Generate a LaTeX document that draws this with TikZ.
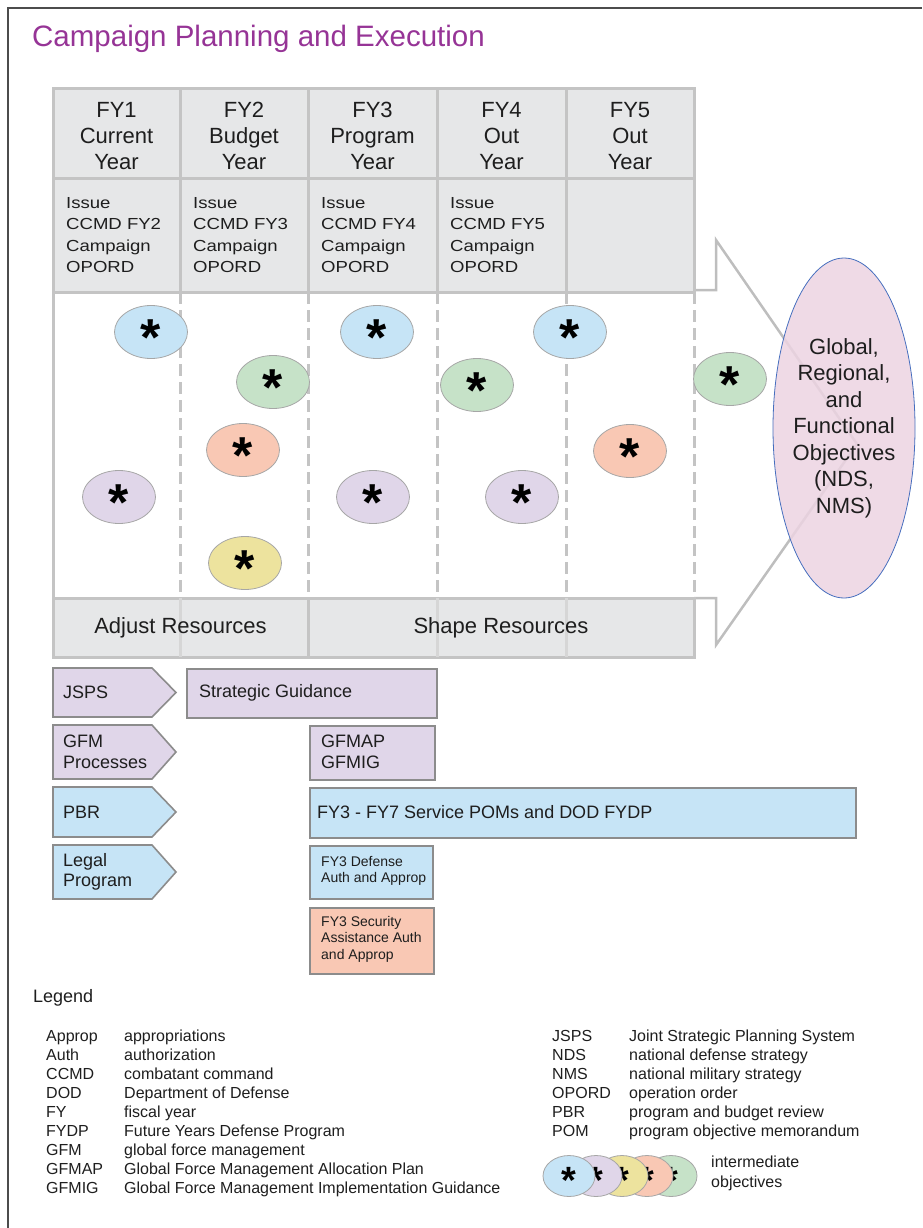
\documentclass[tikz,border=0pt]{standalone}
\usepackage{fontspec}
\setmainfont{Liberation Sans}
\newfontfamily\widefont[FakeStretch=1.16]{Liberation Sans}
\usetikzlibrary{shapes.geometric}

\definecolor{titlepurple}{RGB}{150,52,150}
\definecolor{cellgray}{RGB}{230,231,232}
\definecolor{gridgray}{RGB}{196,196,196}
\definecolor{arrowgray}{RGB}{190,190,190}
\definecolor{lilac}{RGB}{224,214,233}
\definecolor{sky}{RGB}{198,228,246}
\definecolor{mint}{RGB}{198,226,200}
\definecolor{salmon}{RGB}{249,200,180}
\definecolor{butter}{RGB}{237,227,158}
\definecolor{rose}{RGB}{236,212,226}
\definecolor{ovalblue}{RGB}{70,110,190}
\definecolor{ink}{RGB}{30,30,30}
\definecolor{boxline}{RGB}{140,140,140}

\newcommand{\objstar}{\smash{\raisebox{-0.45em}{\bfseries *}}}

\begin{document}
\begin{tikzpicture}[x=1pt,y=-1pt,
    cell/.style={fill=cellgray,draw=gridgray,line width=3pt},
    split/.style={draw=gridgray,line width=3pt,dash pattern=on 12pt off 6pt},
    head/.style={align=center,text=ink,font=\fontsize{22}{26}\selectfont},
    issue/.style={anchor=west,align=left,text=ink,inner sep=0pt,font=\widefont\fontsize{16}{21.3}\selectfont},
    obj/.style={ellipse,draw=gray!70,line width=0.8pt,fill=#1,minimum width=73pt,minimum height=53pt,inner sep=0pt,font=\fontsize{52}{52}\selectfont},
    mini/.style={ellipse,draw=gray!70,line width=0.8pt,fill=#1,minimum width=52pt,minimum height=41pt,inner sep=0pt,font=\fontsize{38}{38}\selectfont},
    tagline/.style={draw=boxline,line width=1.6pt},
    box/.style={draw=boxline,line width=1.6pt,fill=#1,anchor=north west,inner sep=0pt},
    boxtext/.style={anchor=west,align=left,inner sep=0pt,text=ink,font=\fontsize{18}{20.5}\selectfont},
    smalltext/.style={anchor=west,align=left,inner sep=0pt,text=ink,font=\fontsize{14}{16.5}\selectfont},
    legend/.style={anchor=base west,inner sep=0pt,text=ink,font=\fontsize{16}{19}\selectfont}]

\useasboundingbox (0,0) rectangle (922,1228);
\draw[line width=1.5pt,black!70] (8,1228) -- (8,8) -- (922,8);

\node[anchor=base west,inner sep=0pt,text=titlepurple,font=\fontsize{29.5}{30}\selectfont] (title) at (32,47) {Campaign Planning and Execution};

% big arrow behind the table
\draw[arrowgray,line width=2.5pt] (694,290) -- (716,290) -- (716,240) -- (857,444) -- (716,645) -- (716,598) -- (694,598);

% header and issue rows
\foreach \a/\b in {53/180,180/308,308/437,437/566,566/694}
{
  \draw[cell] (\a,89) rectangle (\b,178);
  \draw[cell] (\a,178) rectangle (\b,292);
}
\node[head] (fy1) at (116.5,136) {FY1\\Current\\Year};
\node[head] (fy2) at (244,136) {FY2\\Budget\\Year};
\node[head] (fy3) at (372.5,136) {FY3\\Program\\Year};
\node[head] (fy4) at (501.5,136) {FY4\\Out\\Year};
\node[head] (fy5) at (630,136) {FY5\\Out\\Year};

\foreach \x/\n in {66/2,193/3,321/4,450/5}
  \node[issue] (issue\n) at (\x,235) {Issue\\CCMD FY\n\\Campaign\\OPORD};

% resources row
\draw[cell] (53,598) rectangle (308,657);
\draw[cell] (308,598) rectangle (694,657);

% year splits
\draw[gridgray,line width=3pt] (53,292) -- (53,598);
\foreach \x in {180,308,437,566,694}
  \draw[split] (\x,292) -- (\x,598);
\foreach \x in {180,437,566}
  \draw[gridgray!70,line width=3pt] (\x,598) -- (\x,657);

\node[head] (adjust) at (180.5,628) {Adjust Resources};
\node[head] (shape) at (501,628) {Shape Resources};

% intermediate objectives
\node[obj=sky] (o1) at (151,332) {\objstar};
\node[obj=lilac] (o2) at (119,497) {\objstar};
\node[obj=mint] (o3) at (273,382) {\objstar};
\node[obj=salmon] (o4) at (243,450) {\objstar};
\node[obj=butter] (o5) at (245,563) {\objstar};
\node[obj=sky] (o6) at (377,332) {\objstar};
\node[obj=lilac] (o7) at (373,497) {\objstar};
\node[obj=mint] (o8) at (477,385) {\objstar};
\node[obj=lilac] (o9) at (522,497) {\objstar};
\node[obj=sky] (o10) at (570,332) {\objstar};
\node[obj=salmon] (o11) at (630,451) {\objstar};
\node[obj=mint] (o12) at (730,379) {\objstar};

% end state
\node[ellipse,draw=ovalblue,line width=0.8pt,fill=rose,fill opacity=0.85,minimum width=142pt,minimum height=340pt] (goal) at (844,428) {};
\node[align=center,text=ink,font=\fontsize{22}{26.5}\selectfont] (goaltext) at (goal.center) {Global,\\Regional,\\and\\Functional\\Objectives\\(NDS,\\NMS)};

% processes
\foreach \top/\bot/\col/\txt in {668/717/lilac/JSPS,725/779/lilac/{GFM\\Processes},787/837/sky/PBR,845/899/sky/{Legal\\Program}}
{
  \draw[tagline,fill=\col] (53,\top) -- (152,\top) -- (176,{(\top+\bot)/2}) -- (152,\bot) -- (53,\bot) -- cycle;
  \node[boxtext] (tag\top) at (63,{(\top+\bot)/2}) {\txt};
}

\node[box=lilac,minimum width=250pt,minimum height=49pt] (sg) at (186,668) {};
\node[boxtext] (sgtext) at (199,692.5) {Strategic Guidance};
\node[box=lilac,minimum width=125pt,minimum height=54pt] (gfm) at (309,725) {};
\node[boxtext] (gfmtext) at (321,752) {GFMAP\\GFMIG};
\node[box=sky,minimum width=546pt,minimum height=50pt] (pom) at (309,787) {};
\node[boxtext] (pomtext) at (317,812) {FY3 - FY7 Service POMs and DOD FYDP};
\node[box=sky,minimum width=123pt,minimum height=53pt] (auth) at (309,845) {};
\node[smalltext] (authtext) at (321,871) {FY3 Defense\\Auth and Approp};
\node[box=salmon,minimum width=124pt,minimum height=66pt] (sa) at (309,907) {};
\node[smalltext] (satext) at (321,939) {FY3 Security\\Assistance Auth\\and Approp};

% legend
\node[anchor=west,inner sep=0pt,text=ink,font=\fontsize{18}{20}\selectfont] (legendhead) at (33,998) {Legend};
\foreach \ab/\txt [count=\i] in {Approp/appropriations,Auth/authorization,CCMD/combatant command,DOD/Department of Defense,FY/fiscal year,FYDP/Future Years Defense Program,GFM/global force management,GFMAP/Global Force Management Allocation Plan,GFMIG/Global Force Management Implementation Guidance}
{
  \node[legend] (la\i) at (46,{1041+(\i-1)*19.1}) {\ab};
  \node[legend] (lb\i) at (124,{1041+(\i-1)*19.1}) {\txt};
}
\foreach \ab/\txt [count=\i] in {JSPS/Joint Strategic Planning System,NDS/national defense strategy,NMS/national military strategy,OPORD/operation order,PBR/program and budget review,POM/program objective memorandum}
{
  \node[legend] (ra\i) at (552,{1041+(\i-1)*19.1}) {\ab};
  \node[legend] (rb\i) at (629,{1041+(\i-1)*19.1}) {\txt};
}
\node[mini=mint] (m5) at (671,1176) {\objstar};
\node[mini=salmon] (m4) at (647,1176) {\objstar};
\node[mini=butter] (m3) at (622,1176) {\objstar};
\node[mini=lilac] (m2) at (596,1176) {\objstar};
\node[mini=sky] (m1) at (569,1176) {\objstar};
\node[anchor=west,align=left,inner sep=0pt,text=ink,font=\fontsize{16}{20}\selectfont] (mlabel) at (711,1173) {intermediate\\objectives};
\end{tikzpicture}
\end{document}
